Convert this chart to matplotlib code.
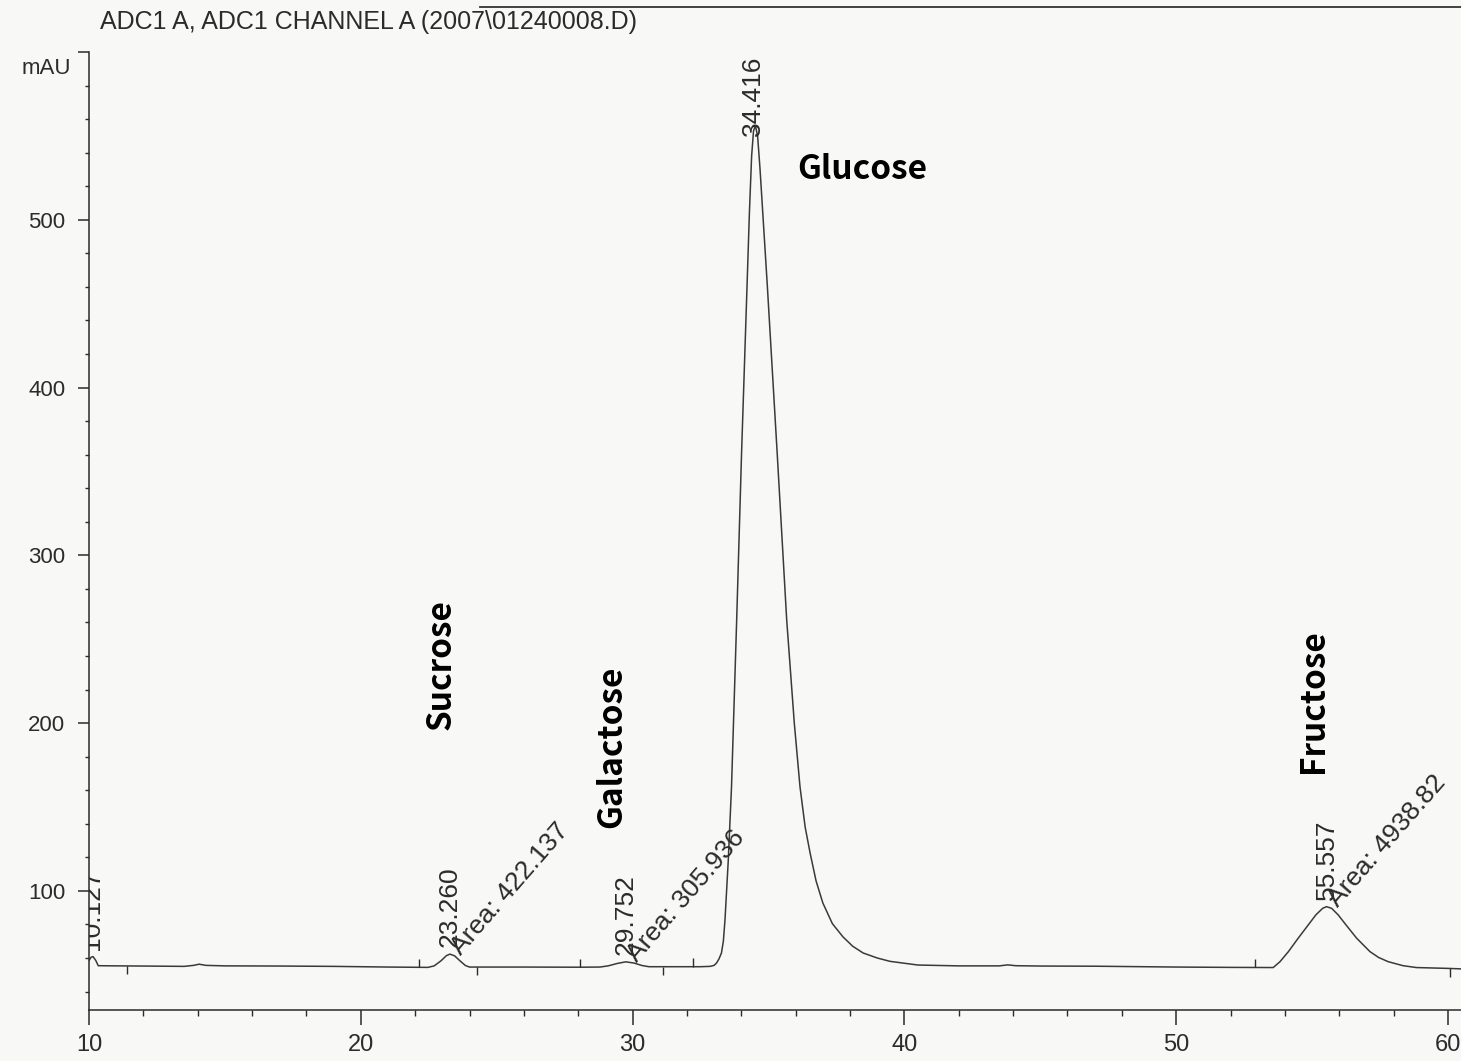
import numpy as np
import matplotlib
matplotlib.use("Agg")
import matplotlib.pyplot as plt
from matplotlib.lines import Line2D

# chromatogram trace (time in min, signal in mAU)
time = [10.0, 10.08, 10.15, 10.25, 10.34, 11.0, 12.0, 13.5, 13.85, 14.05, 14.3, 15.0,
        17.0, 19.0, 21.0, 22.47, 22.7, 22.95, 23.15, 23.28, 23.45, 23.65, 23.85, 24.0,
        26.0, 28.0, 28.8, 29.1, 29.45, 29.75, 30.05, 30.35, 30.6, 31.5, 32.5, 32.85,
        33.0, 33.09, 33.18, 33.27, 33.34, 33.40, 33.52, 33.64, 33.83, 34.01, 34.21,
        34.30, 34.38, 34.45, 34.52, 34.60, 34.69, 34.96, 35.32, 35.67, 35.95, 36.16,
        36.35, 36.53, 36.75, 37.0, 37.35, 37.74, 38.1, 38.48, 39.0, 39.47, 40.5, 42.0,
        43.5, 43.8, 44.1, 45.0, 47.0, 50.0, 52.0, 53.57, 53.82, 54.13, 54.49, 54.86,
        55.14, 55.39, 55.53, 55.72, 55.96, 56.25, 56.64, 57.13, 57.45, 57.80, 58.35,
        58.84, 60.0, 60.5]
signal = [58.5, 60.5, 60.8, 58.5, 55.4, 55.3, 55.2, 55.0, 55.6, 56.3, 55.6, 55.3,
          55.2, 55.0, 54.6, 54.4, 55.3, 58.3, 61.4, 62.3, 61.3, 58.3, 55.5, 54.6,
          54.6, 54.5, 54.6, 55.3, 56.8, 57.7, 57.0, 55.5, 54.8, 54.8, 54.8, 55.0,
          55.6, 57.0, 59.5, 63.0, 70.0, 82.7, 118.0, 162.0, 261.6, 361.0, 460.0,
          505.0, 538.0, 553.0, 556.0, 550.0, 530.0, 460.0, 361.0, 261.6, 200.0, 162.0,
          138.0, 122.7, 106.0, 92.8, 80.5, 72.6, 67.0, 63.0, 60.0, 58.0, 55.8, 55.3,
          55.3, 55.9, 55.4, 55.2, 55.1, 54.6, 54.4, 54.3, 57.8, 63.8, 71.8, 79.7,
          85.7, 89.6, 90.6, 89.6, 85.7, 79.7, 71.8, 63.8, 60.3, 57.8, 55.4,
          54.3, 53.8, 53.5]

# peak annotations printed by the integrator
peak_rt = [10.127, 23.260, 29.752, 34.416, 55.557]
peak_area = [None, 422.137, 305.936, None, 4938.82]

# integration event marks on the baseline
events_up = [22.14, 28.07, 32.22, 52.9]
events_down = [11.4, 24.27, 31.12, 60.07]

# hand written compound names
sugar_names = ['Sucrose', 'Galactose', 'Glucose', 'Fructose']
sugar_x = [22.95, 29.24, 36.05, 55.07]
sugar_y = [235, 186, 530, 213]
sugar_rot = [90, 90, 0, 90]

x_ticks = [10, 20, 30, 40, 50, 60]
y_ticks = [100, 200, 300, 400, 500, 600]
y_labels = ['100', '200', '300', '400', '500', '']

ink = '#2b2b2b'
plt.rcParams['font.family'] = ['Liberation Sans', 'DejaVu Sans']

fig = plt.figure(figsize=(14.61, 10.61), dpi=100, facecolor='#f8f8f6')
ax = fig.add_axes([89 / 1461, 1 - 1010 / 1061, 1 - 89 / 1461, (1010 - 52) / 1061])
ax.set_facecolor('#f8f8f6')

ax.plot(time, signal, color='#3a3a3a', lw=1.1, solid_joinstyle='round')

# event ticks
up_y = np.interp(events_up, time, signal)
down_y = np.interp(events_down, time, signal)
ax.vlines(events_up, up_y, up_y + 5, color=ink, lw=1.0)
ax.vlines(events_down, down_y - 5, down_y, color=ink, lw=1.0)

# retention time / area labels
for rt, area in zip(peak_rt, peak_area):
    top = np.interp(rt, time, signal)
    ax.annotate(f'{rt:.3f}', (rt, top), xytext=(0, 5), textcoords='offset points',
                rotation=90, ha='center', va='bottom', fontsize=19, color=ink,
                annotation_clip=False, clip_on=True)
    if area is not None:
        ax.annotate(f'Area: {area:g}', (rt, top), xytext=(8, -1), textcoords='offset points',
                    rotation=49, rotation_mode='anchor', ha='left', va='baseline',
                    fontsize=19, color=ink)

for name, sx, sy, rot in zip(sugar_names, sugar_x, sugar_y, sugar_rot):
    ax.text(sx, sy, name, rotation=rot, ha='left' if rot == 0 else 'center', va='center',
            fontsize=24, fontweight='bold', color='black',
            family=['Noto Sans CJK JP', 'DejaVu Sans'])

ax.set_xlim(10, 60.48)
ax.set_ylim(29, 600)
ax.set_xticks(x_ticks)
ax.set_xticks(np.arange(12, 60, 2), minor=True)
ax.set_yticks(y_ticks)
ax.set_yticklabels(y_labels)
ax.set_yticks(np.arange(40, 600, 20), minor=True)

for s in ['top', 'right']:
    ax.spines[s].set_visible(False)
for s in ['left', 'bottom']:
    ax.spines[s].set_color(ink)
    ax.spines[s].set_linewidth(1.1)

ax.tick_params(axis='x', which='major', direction='out', length=11, width=1.1,
               color=ink, labelsize=17, pad=6, labelcolor=ink)
ax.tick_params(axis='x', which='minor', direction='out', length=4.5, width=1.0, color=ink)
ax.tick_params(axis='y', which='major', direction='out', length=8, width=1.1,
               color=ink, labelsize=16, pad=9, labelcolor=ink)
ax.tick_params(axis='y', which='minor', direction='out', length=3, width=1.0, color=ink)

ax.text(-0.013, 0.983, 'mAU', transform=ax.transAxes, ha='right', va='center',
        fontsize=16, color=ink)

fig.text(100 / 1461, 1 - 22 / 1061, 'ADC1 A, ADC1 CHANNEL A (2007\\01240008.D)',
         ha='left', va='center', fontsize=18, color=ink)

# edge of the printout at the top of the scan
fig.add_artist(Line2D([480 / 1461, 1.0], [1 - 7 / 1061, 1 - 7 / 1061],
                      transform=fig.transFigure, color='#333333', lw=1.3))

fig.savefig('out.png', dpi=100, facecolor=fig.get_facecolor())
